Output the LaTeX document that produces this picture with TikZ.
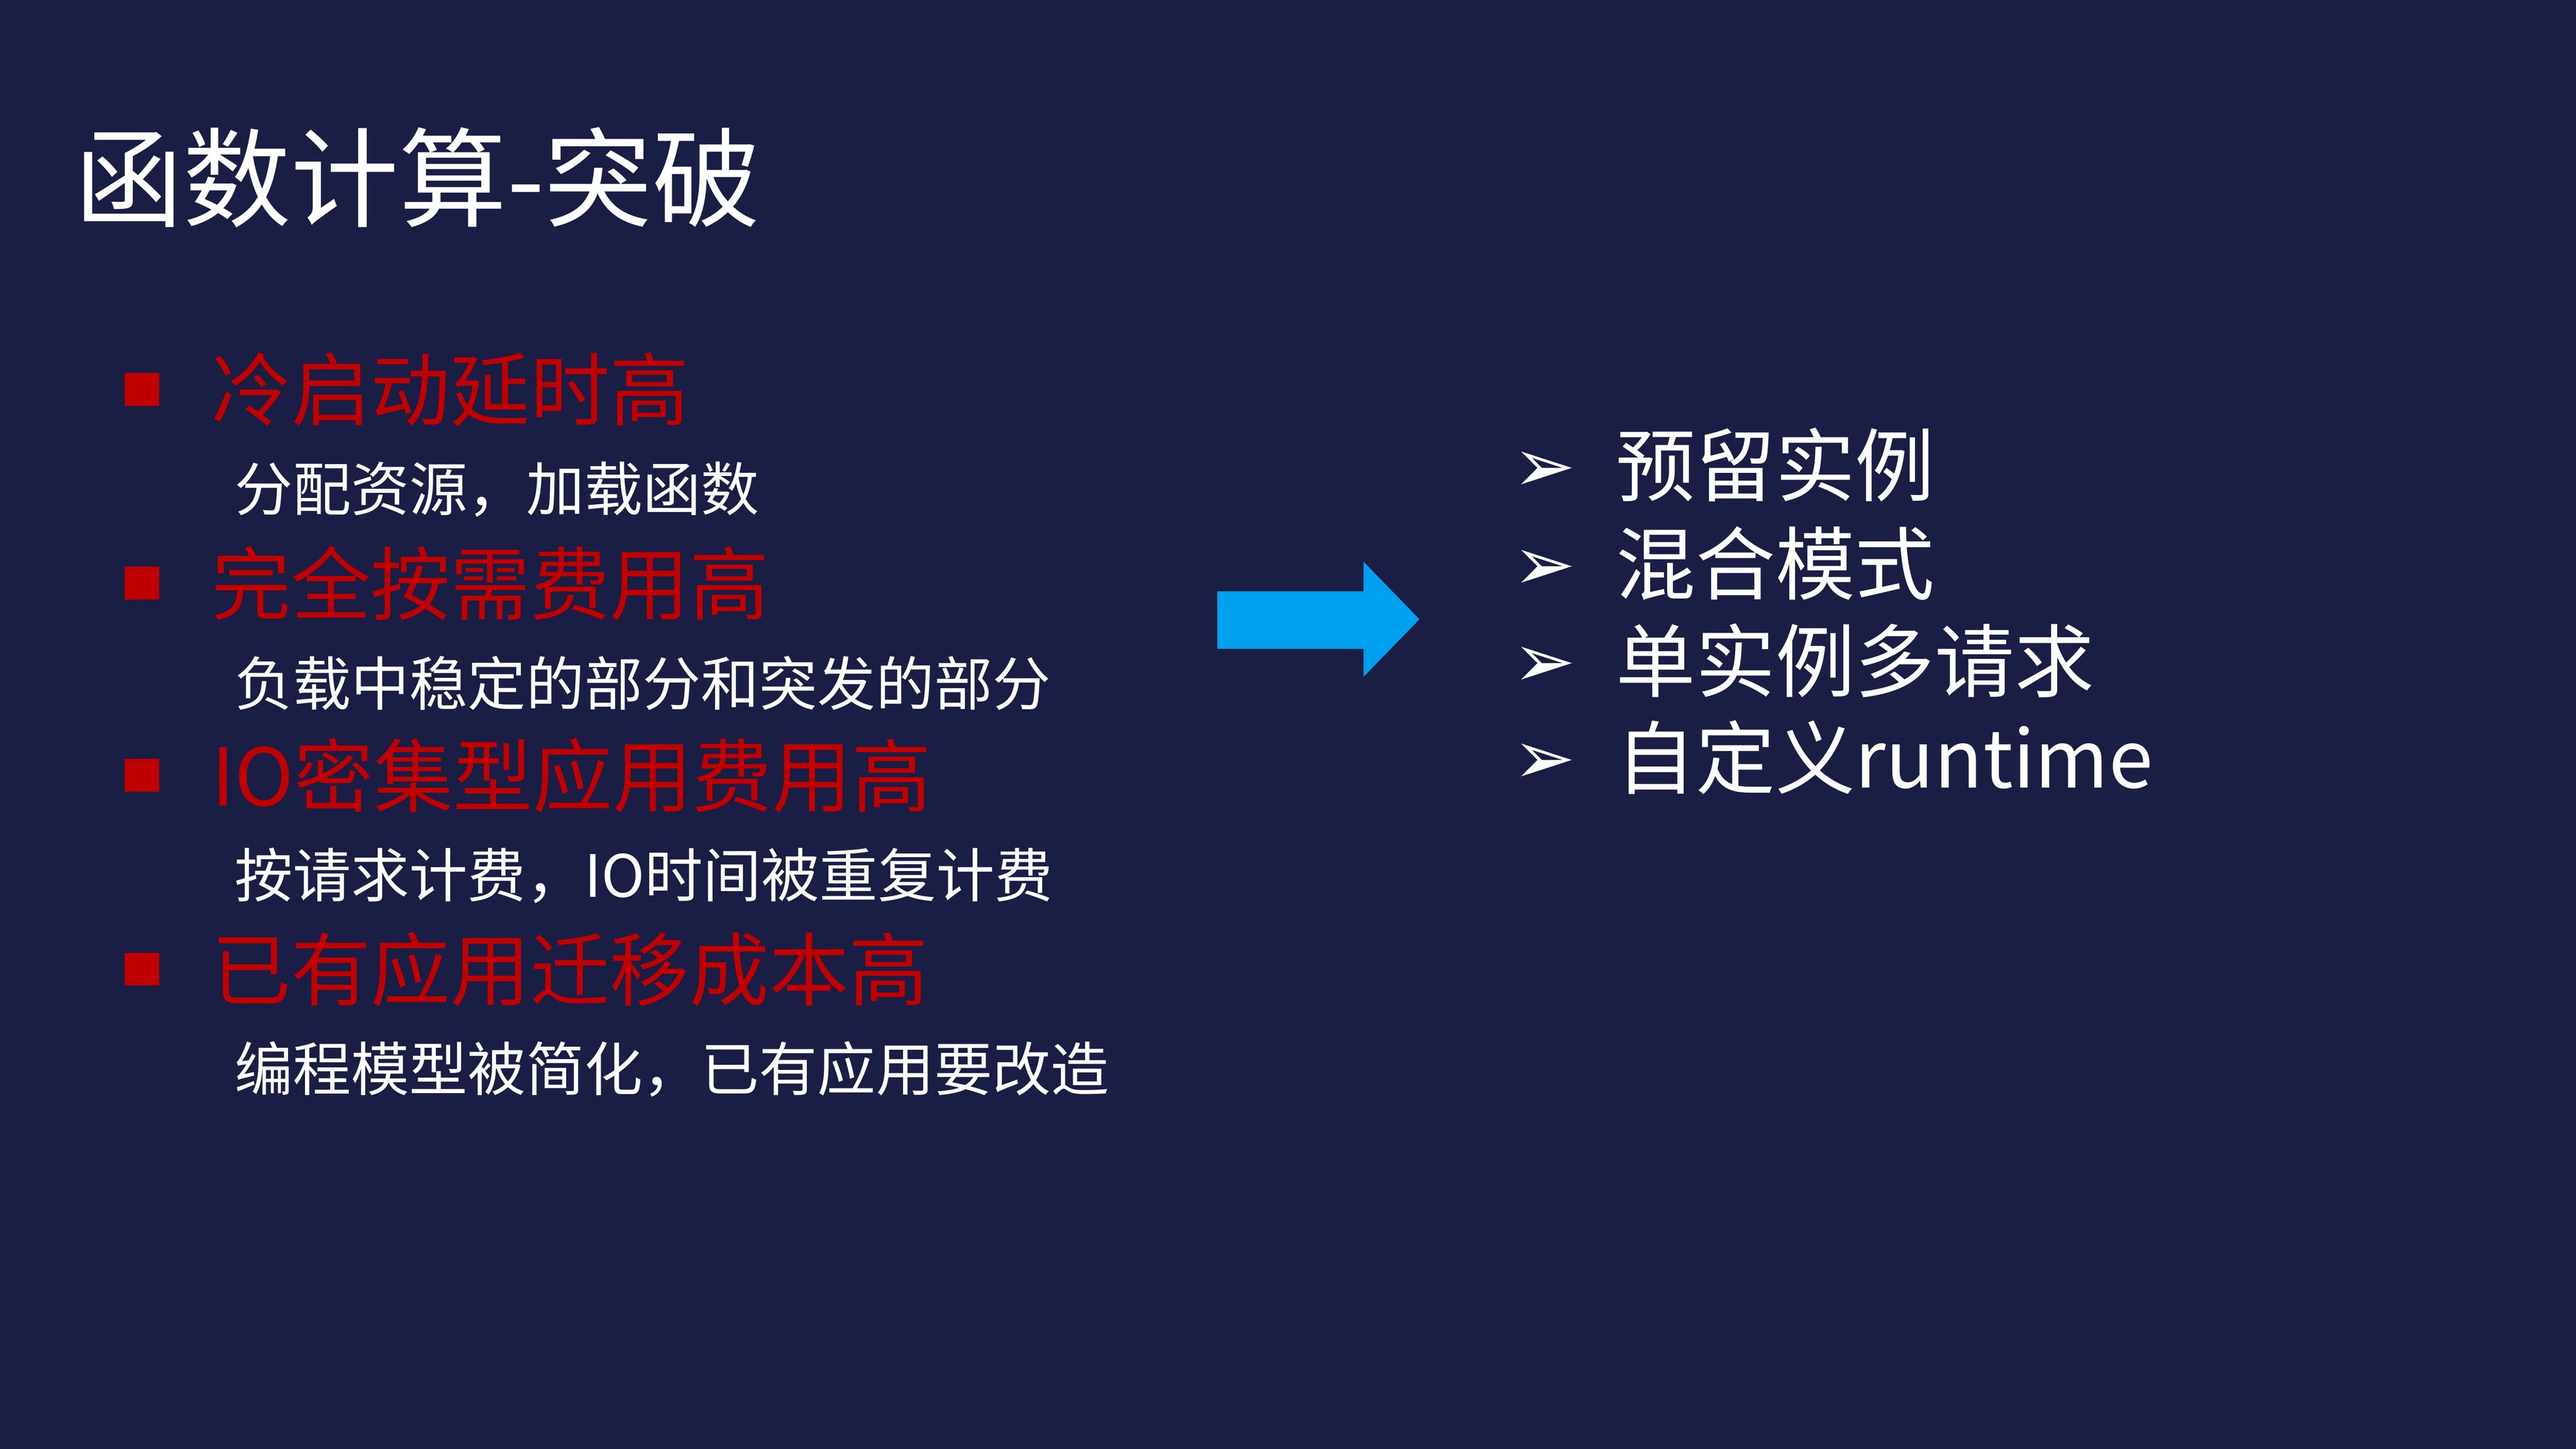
\documentclass[tikz,border=0pt]{standalone}
\usepackage{fontspec}
\setmainfont{Noto Sans CJK SC}
\newfontfamily\djv{DejaVu Sans}
\definecolor{bg}{HTML}{1A1D44}
\definecolor{rd}{HTML}{C00000}
\definecolor{bl}{HTML}{00A0F0}
\begin{document}
\begin{tikzpicture}[x=0.1mm,y=-0.1mm,
  title/.style={anchor=west,text=white,font=\fontsize{18.7}{19}\selectfont,inner sep=0},
  redt/.style={anchor=west,text=rd,font=\fontsize{13.8}{14}\selectfont,inner sep=0},
  sub/.style={anchor=west,text=white,font=\fontsize{10.1}{11}\selectfont,inner sep=0},
  rt/.style={anchor=west,text=white,font=\fontsize{13.8}{14}\selectfont,inner sep=0},
  mk/.style={anchor=center,text=white,font=\djv\fontsize{13}{13}\selectfont,inner sep=0}]
\fill[bg] (0,0) rectangle (1568,882);
\useasboundingbox (0,0) rectangle (1568,882);
\node[title] (t) at (45,108) {函数计算-突破};
\foreach \y/\r/\s [count=\i] in {237/冷启动延时高/{分配资源，加载函数},355/完全按需费用高/负载中稳定的部分和突发的部分,472/IO密集型应用费用高/{按请求计费，IO时间被重复计费},590/已有应用迁移成本高/{编程模型被简化，已有应用要改造}}{
  \fill[rd] (76,\y-10) rectangle (97,\y+10);
  \node[redt] (r\i) at (128,\y) {\r};
  \node[sub] (s\i) at (142,\y+61) {\s};
}
\fill[bl] (741,360) -- (830,360) -- (830,342) -- (864,377) -- (830,412) -- (830,395) -- (741,395) -- cycle;
\foreach \y/\t [count=\i] in {283/预留实例,343/混合模式,402/单实例多请求,461/自定义runtime}{
  \node[mk] (m\i) at (940,\y+4) {➢};
  \node[rt] (q\i) at (983,\y) {\t};
}
\end{tikzpicture}
\end{document}
